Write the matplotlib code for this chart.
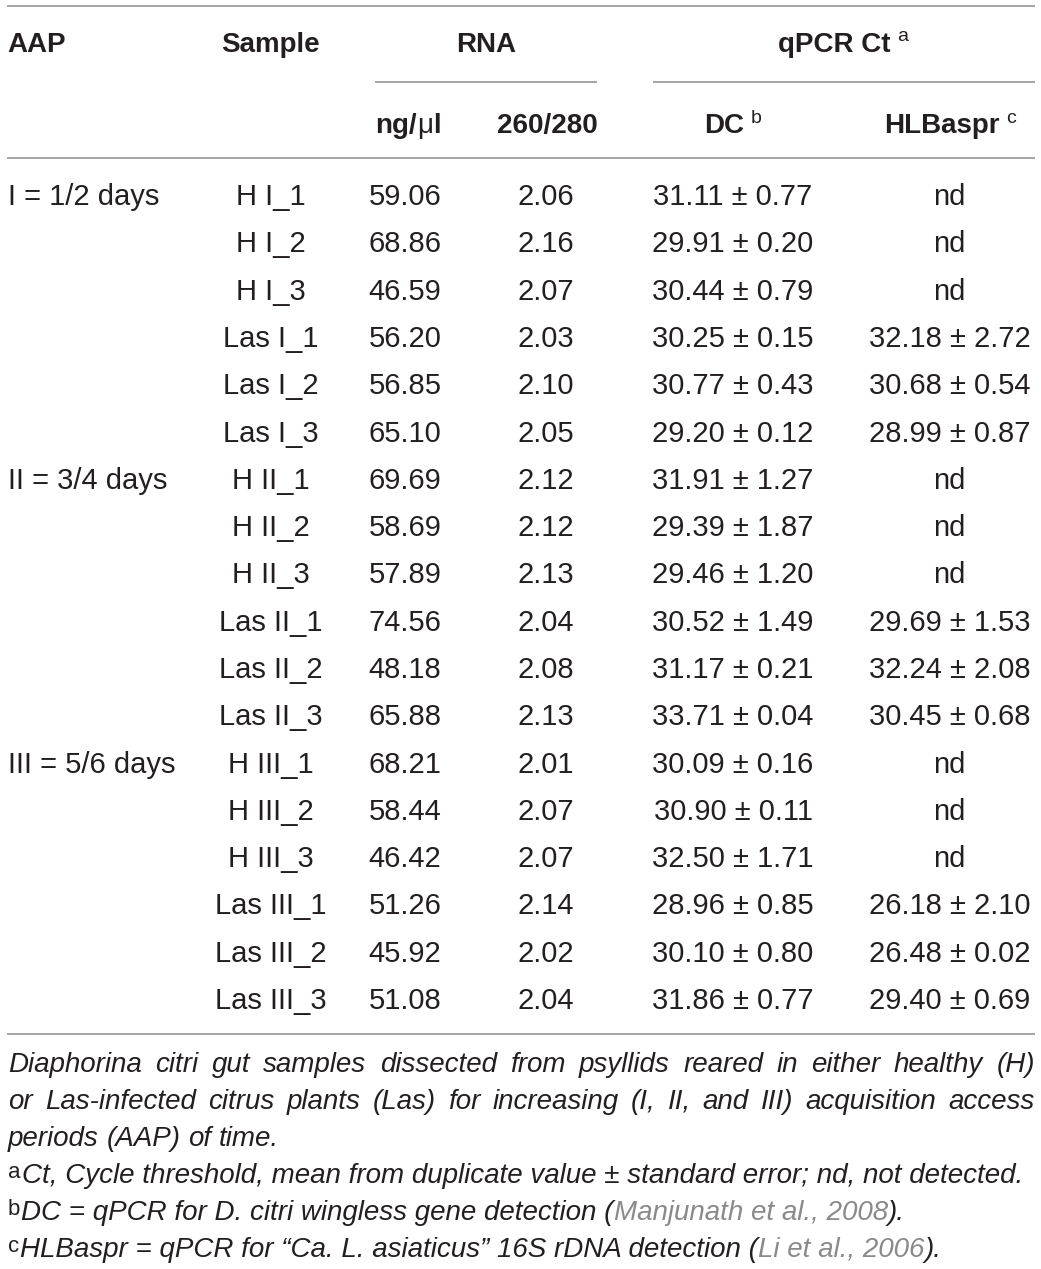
import matplotlib
matplotlib.use("Agg")
import matplotlib.pyplot as plt

# ---------------- data ----------------
aap_labels = ["I = 1/2 days", "II = 3/4 days", "III = 5/6 days"]
samples = ["H I_1", "H I_2", "H I_3", "Las I_1", "Las I_2", "Las I_3",
           "H II_1", "H II_2", "H II_3", "Las II_1", "Las II_2", "Las II_3",
           "H III_1", "H III_2", "H III_3", "Las III_1", "Las III_2", "Las III_3"]
rna_conc = ["59.06", "68.86", "46.59", "56.20", "56.85", "65.10",
            "69.69", "58.69", "57.89", "74.56", "48.18", "65.88",
            "68.21", "58.44", "46.42", "51.26", "45.92", "51.08"]
rna_ratio = ["2.06", "2.16", "2.07", "2.03", "2.10", "2.05",
             "2.12", "2.12", "2.13", "2.04", "2.08", "2.13",
             "2.01", "2.07", "2.07", "2.14", "2.02", "2.04"]
dc_mean = ["31.11", "29.91", "30.44", "30.25", "30.77", "29.20",
           "31.91", "29.39", "29.46", "30.52", "31.17", "33.71",
           "30.09", "30.90", "32.50", "28.96", "30.10", "31.86"]
dc_se = ["0.77", "0.20", "0.79", "0.15", "0.43", "0.12",
         "1.27", "1.87", "1.20", "1.49", "0.21", "0.04",
         "0.16", "0.11", "1.71", "0.85", "0.80", "0.77"]
hlb_mean = [None, None, None, "32.18", "30.68", "28.99",
            None, None, None, "29.69", "32.24", "30.45",
            None, None, None, "26.18", "26.48", "29.40"]
hlb_se = [None, None, None, "2.72", "0.54", "0.87",
          None, None, None, "1.53", "2.08", "0.68",
          None, None, None, "2.10", "0.02", "0.69"]

foot_para1_lines = [
    "Diaphorina citri gut samples dissected from psyllids reared in either healthy (H)",
    "or Las-infected citrus plants (Las) for increasing (I, II, and III) acquisition access",
    "periods (AAP) of time.",
]
foot_a = "Ct, Cycle threshold, mean from duplicate value \u00b1 standard error; nd, not detected."
foot_b = ["DC = qPCR for D. citri wingless gene detection (", "Manjunath et al., 2008", ")."]
foot_c = ["HLBaspr = qPCR for \u201cCa. L. asiaticus\u201d 16S rDNA detection (", "Li et al., 2006", ")."]

# ---------------- style ----------------
FONT = "Liberation Sans"
TXT = "#231f20"
GRAY_LINE = "#8c8c8c"
CITE = "#8a8a8a"

W, H = 1041, 1269
fig = plt.figure(figsize=(W / 100, H / 100), dpi=100)
ax = fig.add_axes([0, 0, 1, 1])
ax.set_xlim(0, W)
ax.set_ylim(H, 0)
ax.axis("off")
renderer = fig.canvas.get_renderer()


def twidth(t):
    return t.get_window_extent(renderer).width


def measure(s, **kw):
    t = ax.text(0, 500, s, family=FONT, **kw)
    w = twidth(t)
    t.remove()
    return w


def run(x, y, pieces, align="left"):
    """pieces: list of (text, kwargs, dy, gap_before)"""
    texts, widths = [], []
    for s, kw, dy, gap in pieces:
        kw2 = dict(family=FONT, color=TXT)
        kw2.update(kw)
        t = ax.text(0, y - dy, s, va="baseline", ha="left", **kw2)
        texts.append((t, gap))
        widths.append(twidth(t))
    total = sum(widths) + sum(g for _, g in texts)
    if align == "left":
        cur = x
    elif align == "center":
        cur = x - total / 2
    else:
        cur = x - total
    for (t, gap), wd in zip(texts, widths):
        cur += gap
        t.set_x(cur)
        cur += wd


def hline(x0, x1, y):
    ax.plot([x0, x1], [y, y], color=GRAY_LINE, lw=1.1, solid_capstyle="butt")


# ---------------- rules ----------------
hline(7, 1035, 5.5)
hline(375, 597, 82)
hline(653, 1035, 82)
hline(7, 1035, 158)
hline(7, 1035, 1034)

# ---------------- header ----------------
HS = 20
bold = dict(size=HS, weight="bold")
sup = dict(size=14)
run(7, 52, [("AAP", bold, 0, 0)])
run(270, 52, [("Sample", bold, 0, 0)], "center")
run(486, 52, [("RNA", bold, 0, 0)], "center")
run(843, 52, [("qPCR Ct", bold, 0, 0), ("a", sup, 11, 7)], "center")

run(408, 133, [("ng/", bold, 0, 0), ("\u03bc", dict(size=HS), 0, 0), ("l", bold, 0, 0)], "center")
run(547, 133, [("260/280", bold, 0, 0)], "center")
run(733, 133, [("DC", bold, 0, 0), ("b", sup, 10, 7)], "center")
run(950, 133, [("HLBaspr", bold, 0, 0), ("c", sup, 10, 7)], "center")

# ---------------- body ----------------
BS = 21
body = dict(size=BS)
y0, dy = 205, 47.3
for i in range(len(samples)):
    y = y0 + i * dy
    if i % 6 == 0:
        run(8, y, [(aap_labels[i // 6], body, 0, 0)])
    run(271, y, [(samples[i], body, 0, 0)], "center")
    run(405, y, [(rna_conc[i], body, 0, 0)], "center")
    run(546, y, [(rna_ratio[i], body, 0, 0)], "center")
    run(733, y, [(f"{dc_mean[i]} \u00b1 {dc_se[i]}", body, 0, 0)], "center")
    if hlb_mean[i] is None:
        run(949, y, [("nd", body, 0, 0)], "center")
    else:
        run(950, y, [(f"{hlb_mean[i]} \u00b1 {hlb_se[i]}", body, 0, 0)], "center")

# ---------------- footnotes ----------------
FS = 20
ital = dict(size=FS, style="italic")
fsup = dict(size=16)
L, R = 8, 1035
fy = [1072 + 37 * k for k in range(6)]

space_w = measure("a a", **ital) - 2 * measure("a", **ital)
for li, line in enumerate(foot_para1_lines):
    y = fy[li]
    words = line.split(" ")
    ts = [ax.text(0, y, w_, family=FONT, color=TXT, va="baseline", ha="left", **ital) for w_ in words]
    ws = [twidth(t) for t in ts]
    last = li == len(foot_para1_lines) - 1
    gap = space_w if last else (R - L - sum(ws)) / (len(ws) - 1)
    x = L
    for t, wd in zip(ts, ws):
        t.set_x(x)
        x += wd + gap

run(L, fy[3], [("a", fsup, 5, 0), (foot_a, ital, 0, 1)])
run(L, fy[4], [("b", fsup, 5, 0), (foot_b[0], ital, 0, 1),
               (foot_b[1], dict(ital, color=CITE), 0, 0), (foot_b[2], ital, 0, 0)])
run(L, fy[5], [("c", fsup, 5, 0), (foot_c[0], ital, 0, 1),
               (foot_c[1], dict(ital, color=CITE), 0, 0), (foot_c[2], ital, 0, 0)])

fig.savefig("out.png", dpi=100)
